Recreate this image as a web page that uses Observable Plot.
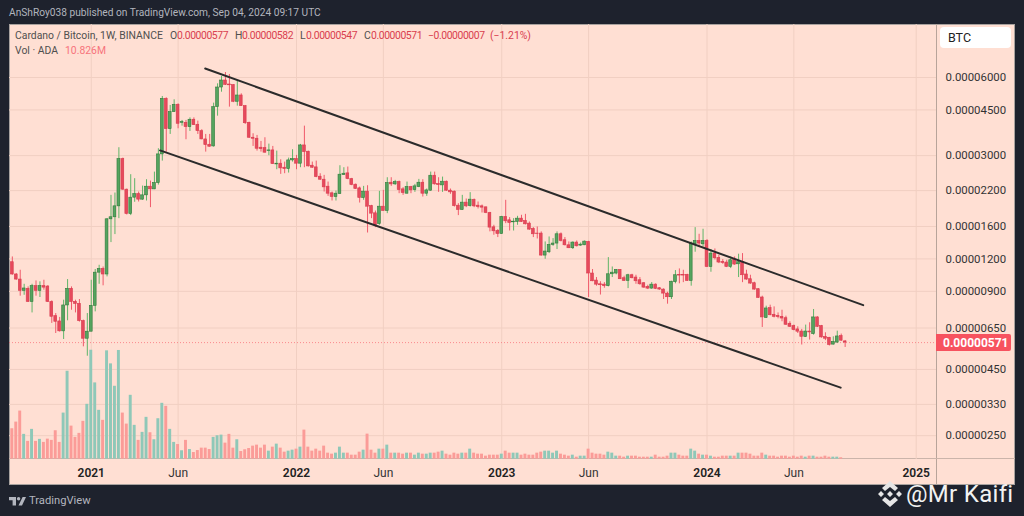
<!DOCTYPE html>
<html>
<head>
<meta charset="utf-8">
<script src="https://cdn.jsdelivr.net/npm/d3@7"></script>
<script src="https://cdn.jsdelivr.net/npm/@observablehq/plot@0.6"></script>
<style>
html,body{margin:0;padding:0;width:1024px;height:516px;overflow:hidden;background:#1e222d;font-family:Roboto,"Liberation Sans",sans-serif}
#pane{position:absolute;left:9px;top:24px;width:1006px;height:461px;background:#ffdfd3;box-sizing:border-box;border:1px solid #a8a29f}
#chart{position:absolute;left:0;top:0}
.t{position:absolute;white-space:pre;font-size:10.4px;line-height:14px}
.n{font-size:10.4px;letter-spacing:-.42px}
.g{color:#4f4f4f}.r{color:#d9404f}
</style>
</head>
<body>
<div id="pane"></div>
<div style="position:absolute;left:936px;top:24px;width:1px;height:461px;background:#b8a49a"></div>
<div style="position:absolute;left:9px;top:458px;width:1006px;height:1px;background:#cbb4aa"></div>
<div id="chart"></div>
<span class="t" style="left:9px;top:6px;color:#b2b5be;font-size:10.2px">AnShRoy038 published on TradingView.com, Sep 04, 2024 09:17 UTC</span>
<span class="t g" style="left:15px;top:29px">Cardano / Bitcoin, 1W, BINANCE</span>
<span class="t g" style="left:170px;top:29px">O</span><span class="t r n" style="left:177px;top:29px">0.00000577</span>
<span class="t g" style="left:235px;top:29px">H</span><span class="t r n" style="left:242px;top:29px">0.00000582</span>
<span class="t g" style="left:300px;top:29px">L</span><span class="t r n" style="left:306px;top:29px">0.00000547</span>
<span class="t g" style="left:364px;top:29px">C</span><span class="t r n" style="left:371px;top:29px">0.00000571</span>
<span class="t r n" style="left:428px;top:29px">−0.00000007</span><span class="t r" style="left:490px;top:29px">(−1.21%)</span>
<span class="t g" style="left:15px;top:44px">Vol · ADA</span><span class="t" style="left:65px;top:44px;color:#f7747c">10.826M</span>
<div style="position:absolute;left:940px;top:27px;width:71px;height:21px;background:#fff;border-radius:4px"></div>
<span class="t" style="left:948px;top:31px;color:#222;font-size:12.5px">BTC</span>
<div style="position:absolute;left:936px;top:334px;width:75px;height:17px;background:#f7525f;border-radius:0 2px 2px 0"></div>
<span class="t" style="left:943px;top:335.5px;color:#fff;font-weight:700;font-size:12px">0.00000571</span>
<svg style="position:absolute;left:9px;top:497px" width="17" height="9" viewBox="0 0 17 9"><path d="M0 0H7V8.5H3.6V3.2H0ZM13.6 0H17L13 8.5H9.5Z" fill="#b2b5be"/><circle cx="9.6" cy="1.7" r="1.7" fill="#b2b5be"/></svg>
<span class="t" style="left:29px;top:494px;color:#b2b5be;font-size:11.2px">TradingView</span>
<svg style="position:absolute;left:875px;top:480px" width="30" height="28" viewBox="0 0 30 28"><g fill="#e6e6e6"><path d="M15 1l8 7-3 3-5-4-5 4-3-3z"/><path d="M3 11l3-3 3 3-3 3zM21 11l3-3 3 3-3 3zM12 11l3-3 3 3-3 3z" transform="translate(0 3)"/><path d="M15 27l-8-7 3-3 5 4 5-4 3 3z"/></g></svg>
<span class="t" style="left:906px;top:481px;color:#f2f2f2;font-size:24px;line-height:27px;letter-spacing:.3px">@Mr Kaifi</span>
<script>
// Prices are in units of 0.00000001 BTC, weekly candles from Aug 2020 to Sep 2024.
const opens = [1165,1045,999,904,920,819,942,904,942,939,
819,722,689,631,794,920,819,805,691,591,
629,791,1062,1098,1045,1705,1736,1913,2909,2218,
1787,2066,2134,2030,2109,2277,2224,2352,3033,4966,
3796,4412,4710,4014,4014,3863,4124,3945,3728,3464,
3304,3255,4613,5491,5842,5639,5605,4838,5115,4653,
4014,3516,3485,3218,3207,3123,3142,2775,2793,2695,
2663,2876,2909,2793,3284,3105,2743,2703,2488,2423,
2277,2147,2078,2134,2525,2563,2436,2318,2244,2060,
2179,1917,1798,1635,1907,1836,2359,2325,2373,2224,
2140,2270,2210,2270,2359,2140,2198,2510,2332,2304,
2380,2198,2179,1924,1852,1977,1917,2024,1924,1913,
1896,1803,1588,1538,1497,1741,1690,1660,1665,1715,
1680,1641,1565,1502,1502,1236,1273,1358,1375,1493,
1416,1354,1319,1387,1350,1354,1395,1054,990,958,
955,942,1047,1054,1088,1011,987,1038,1017,993,
967,936,922,955,925,914,882,854,976,1042,
1042,1042,987,1366,1407,1366,1407,1117,1258,1210,
1168,1162,1117,1193,1144,1168,1045,1002,967,917,
852,711,775,731,724,718,709,675,661,642,
630,600,630,616,714,661,600,596,561,571,
605,577];
const closes = [1045,999,904,923,819,942,904,942,930,819,
718,687,631,794,920,819,805,691,591,629,
791,1062,1098,1045,1705,1736,1913,2909,2218,1787,
2066,2134,2030,2109,2277,2224,2352,3033,4966,3796,
4412,4710,3980,4038,3863,4124,3931,3728,3464,3293,
3246,4613,5491,5842,5624,5600,4838,5115,4653,4000,
3516,3485,3189,3178,3079,3142,2782,2793,2679,2663,
2876,2909,2793,3284,3095,2727,2695,2480,2423,2264,
2140,2078,2140,2533,2555,2436,2310,2231,2060,2179,
1907,1793,1617,1907,1836,2352,2325,2373,2210,2153,
2270,2204,2284,2359,2140,2204,2510,2325,2310,2380,
2198,2166,1917,1852,1977,1913,2030,1913,1901,1891,
1803,1584,1533,1497,1741,1675,1650,1670,1715,1665,
1631,1556,1493,1497,1236,1281,1358,1375,1493,1407,
1354,1319,1387,1342,1362,1399,1054,984,955,950,
942,1047,1062,1088,1002,987,1038,1011,984,958,
930,922,955,920,914,882,854,980,1038,1035,
1035,987,1375,1407,1375,1407,1117,1258,1207,1162,
1158,1117,1186,1141,1165,1038,999,964,914,849,
714,773,728,718,716,707,669,657,638,629,
601,630,625,714,657,598,591,559,574,603,
581,571];
const highs = [1221,1054,1085,958,936,958,987,979,993,947,
827,739,714,832,999,936,832,837,697,739,
993,1092,1134,1117,1715,2109,2153,3218,2935,2230,
2533,2445,2172,2290,2423,2393,2592,3189,5070,5012,
4682,4924,4752,4099,4099,4194,4194,4074,3775,3621,
3621,4779,5673,6053,6272,6162,5639,5807,5192,4682,
4038,3642,3589,3403,3516,3323,3255,3123,2892,2833,
2935,3161,3006,3314,3897,3123,2833,2858,2555,2518,
2373,2172,2191,2743,2695,2711,2452,2332,2270,2284,
2297,1930,1835,2185,2204,2466,2466,2409,2393,2258,
2373,2284,2325,2430,2423,2231,2592,2592,2466,2480,
2393,2231,2191,1959,2109,2042,2160,2042,1988,1936,
1901,1814,1617,1556,1751,2018,1731,1715,1751,1767,
1782,1665,1584,1593,1525,1395,1458,1437,1525,1511,
1450,1395,1395,1407,1382,1407,1403,1092,1017,980,
972,1214,1117,1092,1092,1029,1047,1047,1038,1017,
972,950,973,962,930,920,893,984,1082,1098,
1085,1047,1395,1584,1493,1561,1424,1304,1311,1240,
1193,1186,1221,1221,1251,1258,1085,1038,976,922,
862,789,796,784,743,761,722,687,667,657,
642,667,681,766,718,665,623,598,601,632,
616,582];
const lows = [1038,993,862,869,815,743,862,852,909,815,
677,619,627,587,693,761,743,685,550,506,
629,750,958,945,1023,1387,1489,1715,2204,1772,
1762,1983,1988,2018,2006,1891,2218,2310,2858,3095,
3621,4412,3807,3897,3454,3718,3921,3621,3454,3095,
3236,3236,4258,5267,5589,4613,4800,4653,4640,3956,
3495,3255,3123,3095,3068,2998,2775,2647,2540,2555,
2570,2833,2647,2695,2695,2711,2679,2466,2409,2172,
2090,2006,2006,2128,2518,2423,2297,2224,1970,2018,
1510,1715,1584,1617,1835,1793,2284,2304,2140,2109,
2134,2140,2166,2258,2078,2090,2185,2310,2166,2166,
2185,2128,1901,1762,1847,1891,1901,1891,1869,1803,
1793,1525,1480,1450,1492,1641,1537,1537,1617,1660,
1622,1547,1450,1432,1229,1196,1258,1342,1304,1395,
1346,1315,1304,1334,1342,1350,852,980,942,871,
925,936,1017,1042,999,982,922,1005,958,950,
925,914,917,914,909,837,803,837,962,962,
972,982,942,1273,1327,1334,1111,1066,1189,1151,
1144,1111,1101,1134,1017,972,993,958,909,845,
653,707,724,711,705,687,665,653,634,619,
559,598,584,610,653,594,581,554,559,568,
577,547];
// Weekly volume in millions of ADA.
const volumes = [243,296,384,198,142,238,142,158,134,160,
150,227,134,368,702,264,174,206,302,438,
870,609,390,310,865,761,582,868,368,280,
510,270,150,214,334,211,155,323,446,422,
238,134,117,67,150,77,53,69,88,88,
77,174,187,192,128,198,88,155,61,75,
85,104,112,88,112,64,96,120,88,56,
64,72,80,96,232,96,64,80,64,104,
48,40,48,96,48,48,32,32,56,72,
200,72,48,80,80,112,48,48,48,40,
48,48,32,48,40,40,48,48,56,64,
40,32,48,40,48,48,80,48,40,40,
24,32,32,32,40,64,48,48,48,32,
40,32,32,48,56,64,64,48,64,40,
32,24,32,16,24,24,80,48,40,40,
32,56,48,24,24,16,24,24,24,16,
16,16,16,32,16,16,24,48,48,32,
24,24,80,64,40,32,32,24,16,16,
24,24,24,24,48,48,48,40,24,24,
48,32,24,24,16,24,24,16,24,16,
24,16,24,24,16,16,24,16,16,16,11];
const yearTicks = ["2021-01-04","2022-01-03","2023-01-02","2024-01-01","2025-01-06"].map(d=>new Date(d));
const juneTicks = ["2021-06-07","2022-06-06","2023-06-05","2024-06-03"].map(d=>new Date(d));
const priceTicks = [6000,4500,3000,2200,1600,1200,900,650,450,330,250];
const lastPrice = 571;
const upperChannel = [{date:new Date("2021-07-25"),price:6499},{date:new Date("2024-10-04"),price:796}];
const lowerChannel = [{date:new Date("2021-05-06"),price:3142},{date:new Date("2024-08-25"),price:383}];

const day = 864e5, halfBody = 2.5*day, halfBar = 2.6*day;
const firstWeek = Date.UTC(2020,7,17);
const candles = opens.map((o,i)=>({date:new Date(firstWeek+i*7*day),open:o,close:closes[i],high:highs[i],low:lows[i],vol:volumes[i],up:closes[i]>=o}));

// Volume sits in the bottom of the same pane; map it onto the log price axis so it stays linear on screen.
const volBase = 203, volPerLog = 900;
const volY = v => volBase*Math.exp(v/volPerLog);

const fmtPrice = d => (d/1e8).toFixed(8);
const grid = "#f1cfc2";
const xEnd = new Date("2025-02-11");
const plot = Plot.plot({
  width:1024,height:516,
  marginLeft:9,marginRight:88,marginTop:24,marginBottom:57,
  style:{background:"transparent",fontFamily:"Roboto,'Liberation Sans',sans-serif",fontSize:"12px",color:"#333"},
  x:{type:"utc",domain:[new Date("2020-08-12"),xEnd]},
  y:{type:"log",domain:[202.4,9603],axis:null},
  marks:[
    Plot.ruleX([...yearTicks,...juneTicks],{stroke:grid,strokeWidth:1}),
    Plot.ruleY(priceTicks,{stroke:grid,strokeWidth:1}),
    Plot.rect(candles,{x1:d=>new Date(+d.date-halfBar),x2:d=>new Date(+d.date+halfBar),y1:volBase,y2:d=>volY(d.vol),fill:d=>d.up?"#8fc8b8":"#fb9c98"}),
    Plot.ruleY([lastPrice],{stroke:"#f7525f",strokeWidth:1,strokeDasharray:"1,2",strokeOpacity:.6}),
    Plot.ruleX(candles,{x:"date",y1:"low",y2:"high",stroke:d=>d.up?"#5fb568":"#f0596a",strokeWidth:1}),
    Plot.rect(candles,{x1:d=>new Date(+d.date-halfBody),x2:d=>new Date(+d.date+halfBody),y1:"open",y2:"close",fill:d=>d.up?"#55a45f":"#e64a5c",stroke:d=>d.up?"#2f7a3b":"#d93a4e",strokeWidth:.6}),
    Plot.line(upperChannel,{x:"date",y:"price",stroke:"#2b2b2b",strokeWidth:2}),
    Plot.line(lowerChannel,{x:"date",y:"price",stroke:"#2b2b2b",strokeWidth:2}),
    Plot.text(priceTicks,{x:()=>xEnd,y:d=>d,dx:9,textAnchor:"start",text:fmtPrice,fill:"#333",fontSize:11.4}),
    Plot.axisX({anchor:"bottom",ticks:yearTicks,tickFormat:d3.utcFormat("%Y"),tickSize:0,tickPadding:9,label:null,fontWeight:600,fill:"#222"}),
    Plot.axisX({anchor:"bottom",ticks:juneTicks,tickFormat:d3.utcFormat("%b"),tickSize:0,tickPadding:9,label:null,fill:"#333"})
  ]
});
document.getElementById("chart").appendChild(plot);
</script>
</body>
</html>
